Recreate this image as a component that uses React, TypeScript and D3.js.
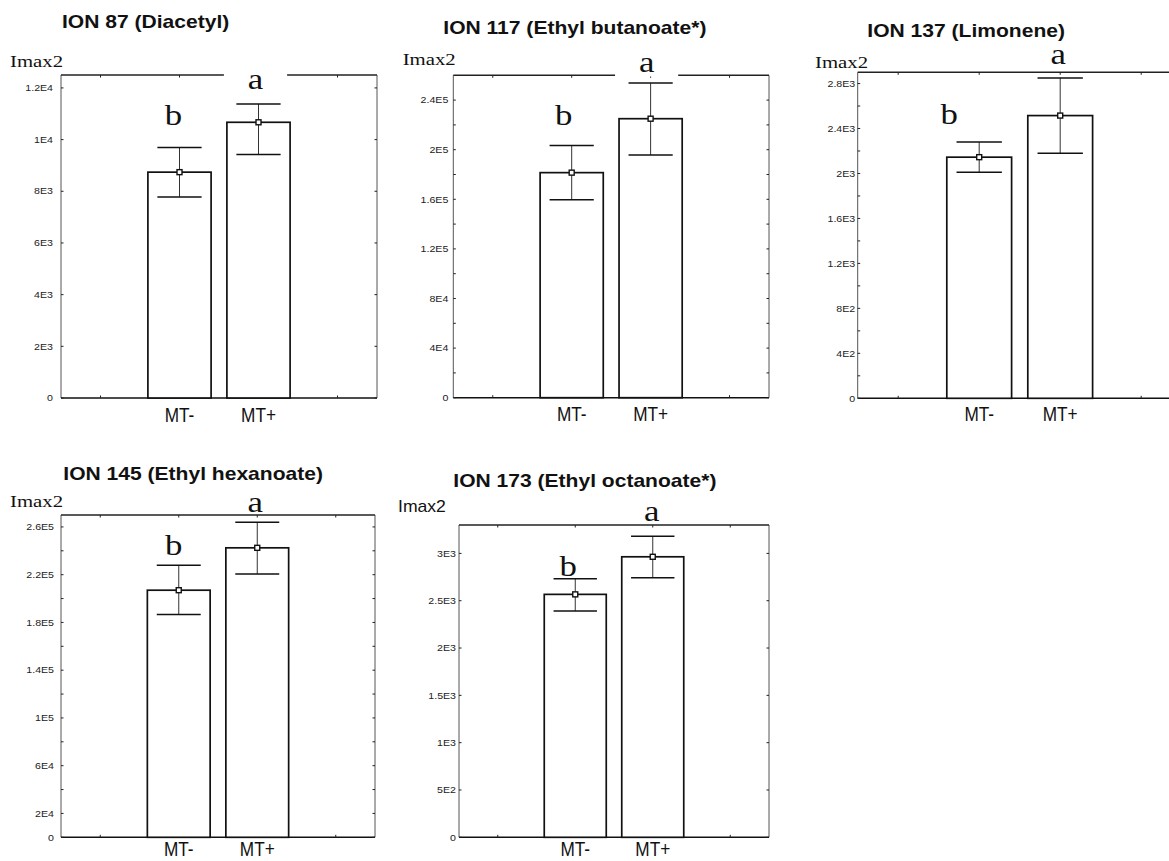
import * as d3 from 'd3';

const GROUPS = ['MT-', 'MT+'];
const X_SLOTS = ['padLeft', 'MT-', 'MT+', 'padRight'];
const LETTERS = ['b', 'a'];

const TITLES = [
  'ION 87 (Diacetyl)',
  'ION 117 (Ethyl butanoate*)',
  'ION 137 (Limonene)',
  'ION 145 (Ethyl hexanoate)',
  'ION 173 (Ethyl octanoate*)',
];

// mean and whisker ends, [MT-, MT+]
const MEANS = [[8740, 10670], [181500, 225000], [2145, 2515], [207000, 242500], [2567, 2964]];
const ERR_HIGH = [[9690, 11380], [203300, 253700], [2280, 2850], [228000, 264000], [2732, 3180]];
const ERR_LOW = [[7780, 9420], [159600, 195800], [2010, 2180], [186700, 220500], [2391, 2742]];

const Y_MAX = [12500, 260000, 2900, 270000, 3300];
const MAJOR_TICKS = [
  [0, 2000, 4000, 6000, 8000, 10000, 12000],
  [0, 40000, 80000, 120000, 160000, 200000, 240000],
  [0, 400, 800, 1200, 1600, 2000, 2400, 2800],
  [0, 20000, 60000, 100000, 140000, 180000, 220000, 260000],
  [0, 500, 1000, 1500, 2000, 2500, 3000],
];
const MINOR_TICKS = [
  [],
  [20000, 60000, 100000, 140000, 180000, 220000],
  [200, 600, 1000, 1400, 1800, 2200, 2600],
  [40000, 80000, 120000, 160000, 200000, 240000],
  [],
];

// page layout of each panel
const PANELS = [
  { left: 61, right: 377, top: 75, bottom: 398, titleX: 62, titleY: 28, unitX: 10, unitY: 67, unitSerif: true, labelY: 421.5, tickGap: 8, mask: true, letterDy: [23, 15], letterDx: [-6, -3] },
  { left: 453.3, right: 769, top: 75.3, bottom: 397.7, titleX: 443.3, titleY: 34, unitX: 402.7, unitY: 65, unitSerif: true, labelY: 420.7, tickGap: 5, mask: true, letterDy: [21, 11.6], letterDx: [-8, -4] },
  { left: 857.7, right: 1181.7, top: 72.3, bottom: 398.3, titleX: 867.3, titleY: 36.7, unitX: 815, unitY: 68.3, unitSerif: true, labelY: 420.7, tickGap: 2.5, mask: false, letterDy: [18.4, 14], letterDx: [-30, -2] },
  { left: 61, right: 375, top: 515, bottom: 837.3, titleX: 63.3, titleY: 480, unitX: 10, unitY: 507.3, unitSerif: true, labelY: 855.5, tickGap: 7, mask: false, letterDy: [10, 9.7], letterDx: [-5, -2] },
  { left: 459, right: 769, top: 525, bottom: 837.3, titleX: 453.3, titleY: 486.7, unitX: 398, unitY: 512, unitSerif: false, labelY: 855.5, tickGap: 3, mask: false, letterDy: [3, 15], letterDx: [-7, -1] },
];

const SANS = '"Liberation Sans", Arial, sans-serif';
const SERIF = '"Liberation Serif", "Times New Roman", serif';
const TICK = 2.5;

const fmt = (v: number) => {
  if (v === 0) return '0';
  const e = Math.floor(Math.log10(v) + 1e-9);
  const m = +(v / Math.pow(10, e)).toFixed(2);
  return `${m}E${e}`;
};

const stretch = (x: number, y: number, sx: number) => `translate(${x},${y}) scale(${sx},1)`;

function Panel({ i }: { i: number }) {
  const p = PANELS[i];
  const x = d3.scaleBand<string>().domain(X_SLOTS).range([p.left, p.right]).paddingInner(0.2).paddingOuter(0.1);
  const y = d3.scaleLinear().domain([0, Y_MAX[i]]).range([p.bottom, p.top]);
  const bw = x.bandwidth();
  const cx = (g: string) => (x(g) as number) + bw / 2;
  const capW = bw * 0.7;

  return (
    <g>
      <text transform={stretch(p.titleX, p.titleY, 1.17)} fontFamily={SANS} fontWeight="bold" fontSize={18} fill="#111">
        {TITLES[i]}
      </text>
      {p.unitSerif ? (
        <text transform={stretch(p.unitX, p.unitY, 1.18)} fontFamily={SERIF} fontSize={17.6} fill="#111">Imax2</text>
      ) : (
        <text transform={stretch(p.unitX, p.unitY, 1.1)} fontFamily={SANS} fontSize={16} fill="#111">Imax2</text>
      )}

      {/* frame */}
      <line x1={p.left} x2={p.left} y1={p.top} y2={p.bottom} stroke="#555" strokeWidth={1} />
      <line x1={p.right} x2={p.right} y1={p.top} y2={p.bottom} stroke="#555" strokeWidth={1} />
      <line x1={p.left} x2={p.right} y1={p.top} y2={p.top} stroke="#222" strokeWidth={1.4} />
      <line x1={p.left} x2={p.right} y1={p.bottom} y2={p.bottom} stroke="#111" strokeWidth={1.5} />

      {/* y ticks */}
      {[...MAJOR_TICKS[i], ...MINOR_TICKS[i]].map((t, k) => (
        <g key={`yt${k}`}>
          <line x1={p.left} x2={p.left + TICK} y1={y(t)} y2={y(t)} stroke="#222" strokeWidth={1} />
          <line x1={p.right} x2={p.right - TICK} y1={y(t)} y2={y(t)} stroke="#222" strokeWidth={1} />
        </g>
      ))}
      {MAJOR_TICKS[i].map((t, k) => (
        <text key={`yl${k}`} transform={stretch(p.left - p.tickGap, y(t), 1.18)} textAnchor="end" dominantBaseline="central"
          fontFamily={SANS} fontSize={9} fill="#222">{fmt(t)}</text>
      ))}

      {/* x ticks */}
      {X_SLOTS.map(s => (
        <g key={`xt${s}`}>
          <line x1={cx(s)} x2={cx(s)} y1={p.bottom} y2={p.bottom - TICK} stroke="#222" strokeWidth={1} />
          <line x1={cx(s)} x2={cx(s)} y1={p.top} y2={p.top + TICK} stroke="#222" strokeWidth={1} />
        </g>
      ))}

      {/* bars */}
      {GROUPS.map((g, j) => (
        <rect key={`b${g}`} x={x(g)} y={y(MEANS[i][j])} width={bw} height={y(0) - y(MEANS[i][j])}
          fill="#fff" stroke="#111" strokeWidth={1.7} />
      ))}

      {/* error bars */}
      {GROUPS.map((g, j) => (
        <g key={`e${g}`}>
          <line x1={cx(g)} x2={cx(g)} y1={y(ERR_HIGH[i][j])} y2={y(ERR_LOW[i][j])} stroke="#333" strokeWidth={1} />
          <line x1={cx(g) - capW / 2} x2={cx(g) + capW / 2} y1={y(ERR_HIGH[i][j])} y2={y(ERR_HIGH[i][j])} stroke="#111" strokeWidth={1.5} />
          <line x1={cx(g) - capW / 2} x2={cx(g) + capW / 2} y1={y(ERR_LOW[i][j])} y2={y(ERR_LOW[i][j])} stroke="#111" strokeWidth={1.5} />
          <rect x={cx(g) - 2.5} y={y(MEANS[i][j]) - 2.5} width={5} height={5} fill="#fff" stroke="#111" strokeWidth={1.4} />
        </g>
      ))}

      {/* significance letters */}
      {GROUPS.map((g, j) => {
        const ly = y(ERR_HIGH[i][j]) - p.letterDy[j];
        const lx = cx(g) + p.letterDx[j];
        return (
          <g key={`l${g}`}>
            {p.mask && <rect x={lx - bw / 2} y={ly - 21} width={bw} height={26} fill="#fff" />}
            <text transform={stretch(lx, ly, 1.2)} textAnchor="middle" fontFamily={SERIF} fontSize={29} fill="#111">
              {LETTERS[j]}
            </text>
          </g>
        );
      })}

      {/* category labels */}
      {GROUPS.map(g => (
        <text key={`x${g}`} transform={stretch(cx(g), p.labelY, 0.82)} textAnchor="middle" fontFamily={SANS} fontSize={21} fill="#111">
          {g}
        </text>
      ))}
    </g>
  );
}

export default function App() {
  return (
    <svg width={1169} height={861} style={{ position: 'absolute', left: 0, top: 0, background: '#fff' }}>
      <rect width={1169} height={861} fill="#fff" />
      {PANELS.map((_, i) => <Panel key={i} i={i} />)}
    </svg>
  );
}
